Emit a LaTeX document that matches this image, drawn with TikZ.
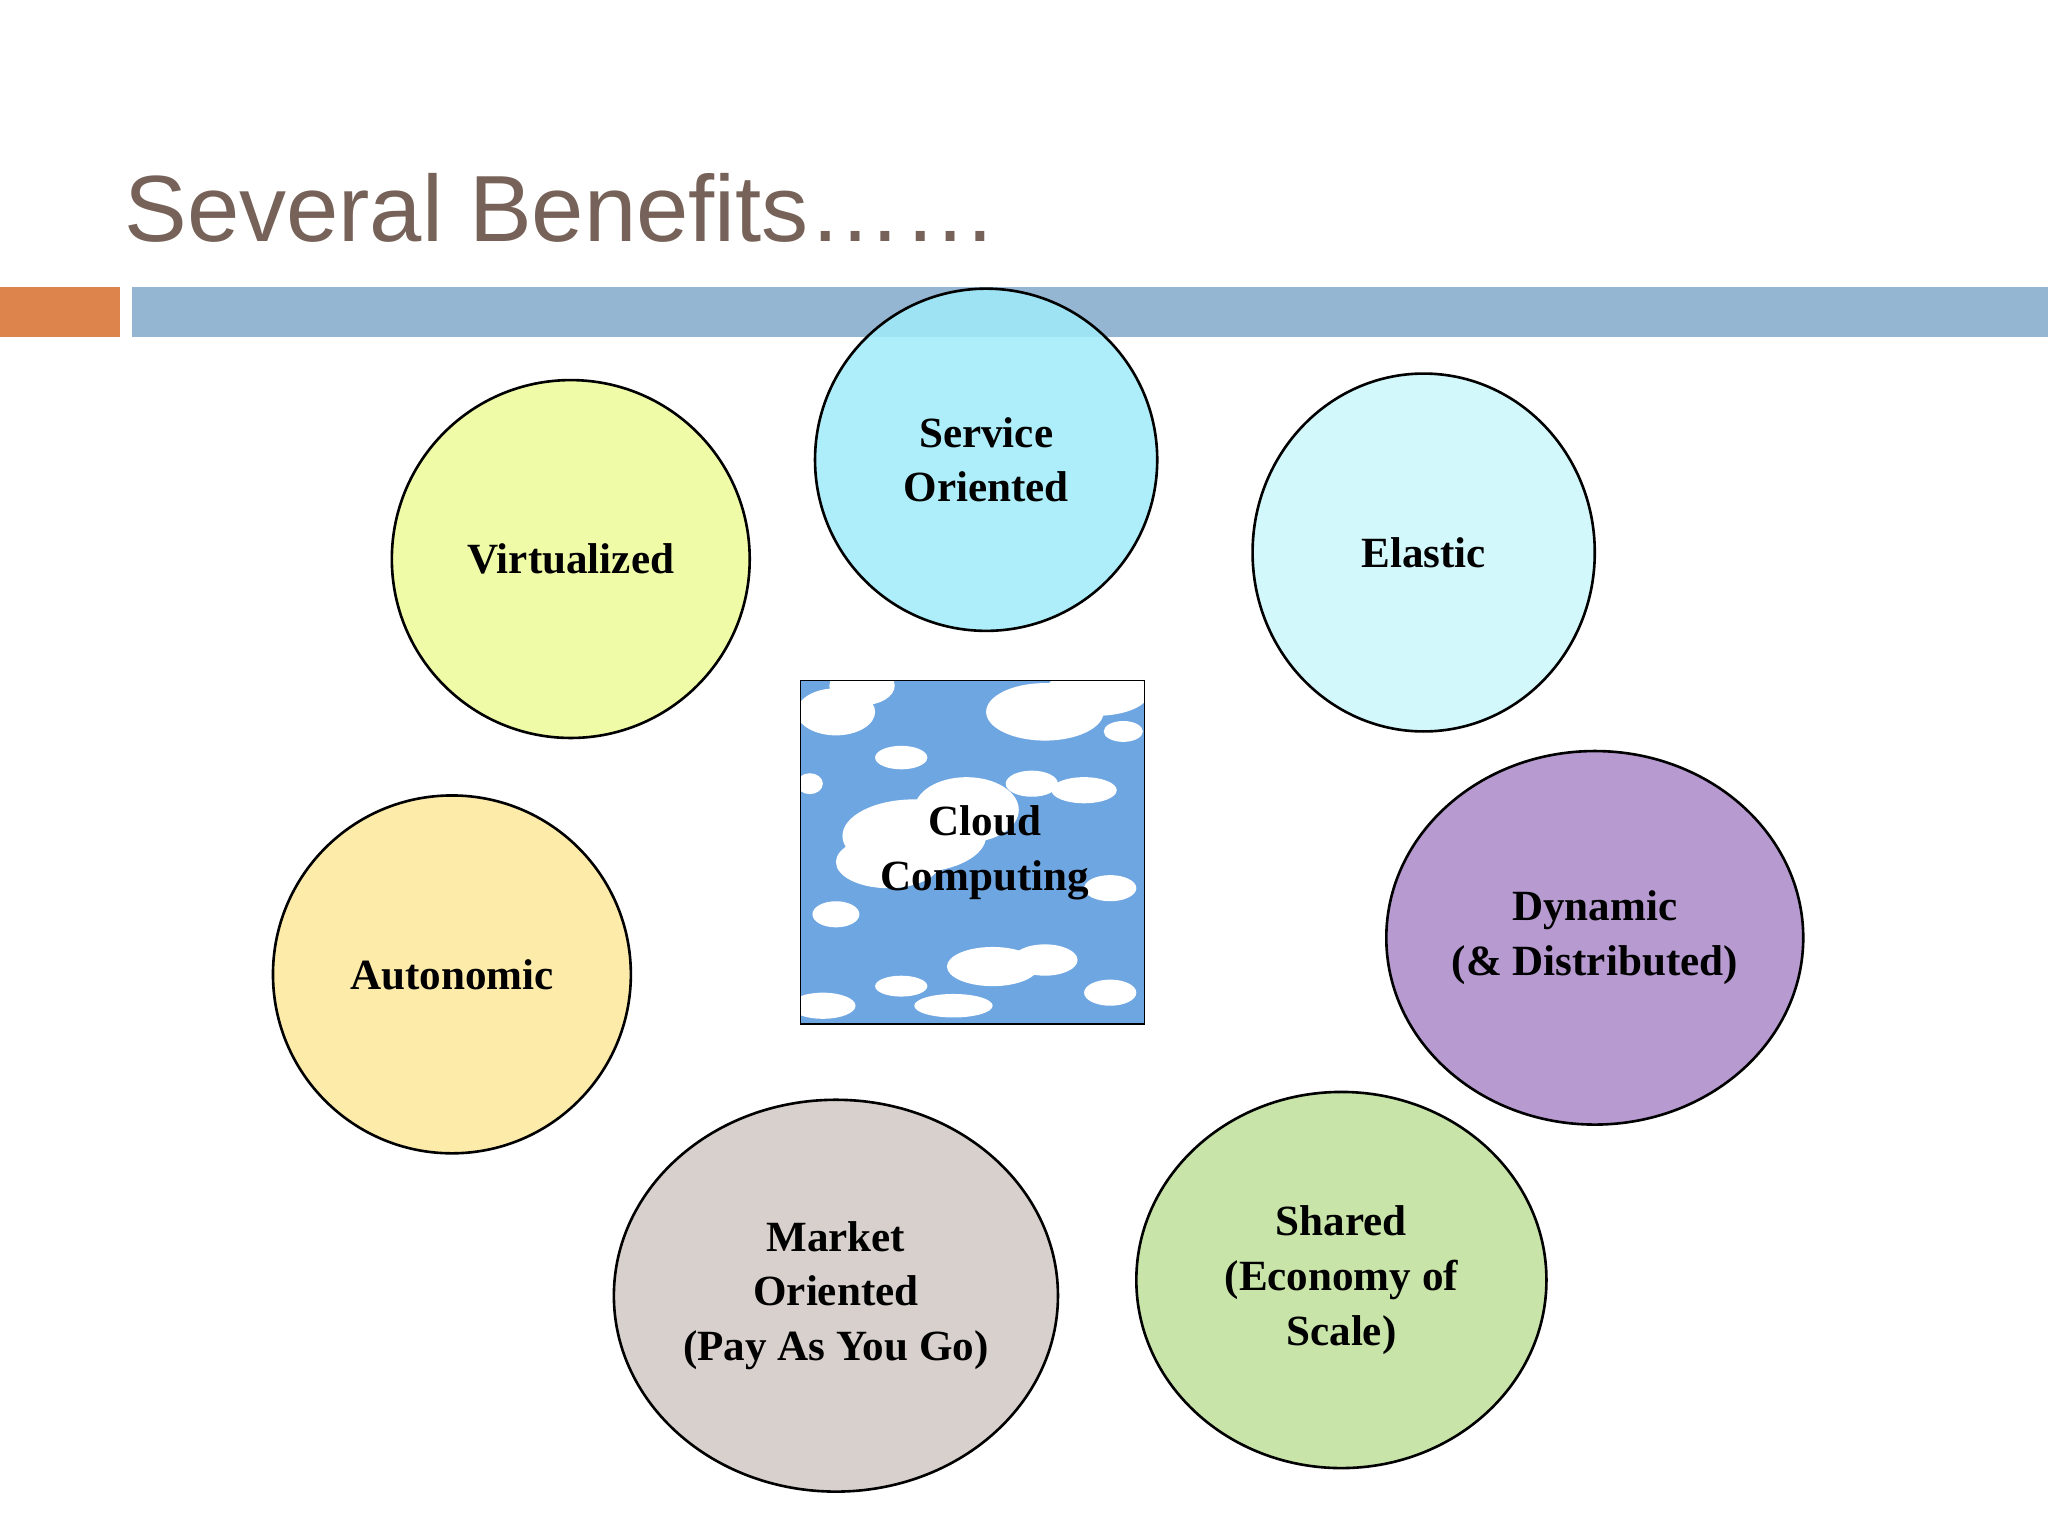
\documentclass[tikz,border=0pt]{standalone}
\usepackage{fontspec}
\setmainfont{Liberation Serif}
\newfontfamily\titlefont{Liberation Sans}
\usetikzlibrary{shapes.geometric}
\definecolor{titlec}{RGB}{118,98,88}
\definecolor{orangebar}{RGB}{221,131,76}
\definecolor{bluebar}{RGB}{148,182,210}
\definecolor{skyc}{RGB}{110,166,226}
\tikzset{
 benefit/.style={ellipse,draw=black,line width=2pt,align=center,font=\bfseries\fontsize{33}{42}\selectfont},
 cl/.style={fill=white,draw=none}
}
\begin{document}
\begin{tikzpicture}[x=1pt,y=-1pt]
\useasboundingbox (0,0) rectangle (1568,1176);
\fill[white] (0,0) rectangle (1568,1176);
\node[anchor=base west,text=titlec,font=\titlefont\fontsize{72}{80}\selectfont,inner sep=0] (title) at (95,185) {Several Benefits……};
\fill[orangebar] (0,220) rectangle (92,258);
\fill[bluebar] (101,220) rectangle (1568,258);
% cloud square
\begin{scope}
\clip (613,521) rectangle (876,784);
\fill[skyc] (613,521) rectangle (876,784);
\foreach \x/\y/\a/\b in {640/545/30/18, 660/525/25/15, 800/545/45/22, 840/530/40/18, 700/640/55/28, 740/620/40/25, 680/660/40/20, 790/600/20/10, 830/605/25/10, 690/580/20/9, 760/740/35/15, 800/735/25/12, 690/755/20/8, 640/700/18/10, 630/770/25/10, 730/770/30/9, 850/680/20/10, 850/760/20/10, 620/600/10/8, 860/560/15/8}
 \fill[cl] (\x,\y) ellipse[x radius=\a,y radius=\b];
\end{scope}
\draw[black,line width=1pt] (613,521) rectangle (876,784);
\node[align=center,font=\bfseries\fontsize{33}{42}\selectfont] (cloud) at (754,653) {Cloud\\Computing};
\node[benefit,fill={rgb,255:red,160;green,236;blue,250},fill opacity=0.85,text opacity=1,minimum width=262pt,minimum height=262pt] (so) at (755,352) {Service\\Oriented};
\node[benefit,fill={rgb,255:red,240;green,251;blue,168},minimum width=274pt,minimum height=274pt] (vi) at (437,428) {Virtualized};
\node[benefit,fill={rgb,255:red,210;green,248;blue,252},minimum width=262pt,minimum height=274pt] (el) at (1090,423) {Elastic};
\node[benefit,fill={rgb,255:red,182;green,154;blue,208},minimum width=300pt,minimum height=286pt] (dy) at (1221,718) {Dynamic\\(\& Distributed)};
\node[benefit,fill={rgb,255:red,253;green,235;blue,170},minimum width=274pt,minimum height=274pt] (au) at (346,746) {Autonomic};
\node[benefit,fill={rgb,255:red,216;green,208;blue,204},minimum width=314pt,minimum height=300pt] (mk) at (640,992) {Market\\Oriented\\(Pay As You Go)};
\node[benefit,fill={rgb,255:red,200;green,228;blue,168},minimum width=314pt,minimum height=288pt] (sh) at (1027,980) {Shared\\(Economy of\\Scale)};
\end{tikzpicture}
\end{document}
